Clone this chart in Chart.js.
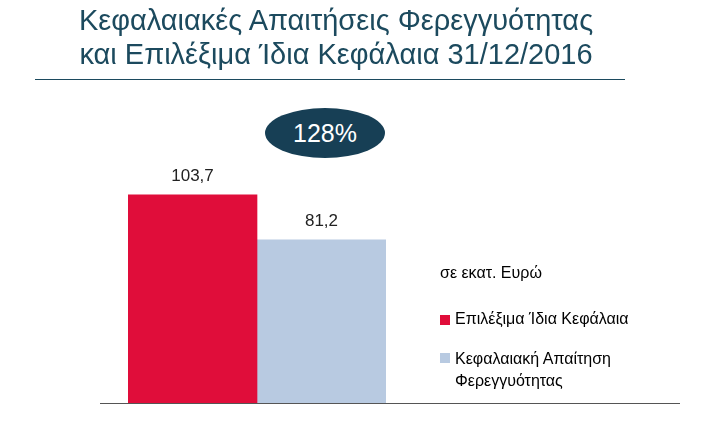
<!DOCTYPE html>
<html><head><meta charset="utf-8">
<script src="https://cdn.jsdelivr.net/npm/chart.js@4"></script>
<style>
body{margin:0;width:709px;height:423px;overflow:hidden;background:#fff;font-family:Arial,"Liberation Sans",sans-serif;position:relative}
#title{position:absolute;left:0;width:672px;top:3px;text-align:center;color:#1C4A5E;font-size:29px;line-height:34px}
#rule{position:absolute;left:35px;width:590px;top:79px;height:1px;background:#1C4A5E}
#oval{position:absolute;left:265px;top:108px;width:120px;height:50px;border-radius:50%;background:#173F55;color:#fff;font-size:25px;line-height:50px;text-align:center}
.lg{position:absolute;font-size:16px;color:#000}
.sq{position:absolute;width:10px;height:10px}
canvas{position:absolute;left:0;top:0}
</style></head><body>
<canvas id="c" width="709" height="423"></canvas>
<div id="title">Κεφαλαιακές Απαιτήσεις Φερεγγυότητας<br>και Επιλέξιμα Ίδια Κεφάλαια 31/12/2016</div>
<div id="rule"></div>
<div id="oval">128%</div>
<div class="lg" style="left:440px;top:264px">σε εκατ. Ευρώ</div>
<div class="sq" style="left:440px;top:315px;background:#E00D3A"></div>
<div class="lg" style="left:455px;top:310px">Επιλέξιμα Ίδια Κεφάλαια</div>
<div class="sq" style="left:440px;top:353px;background:#B8CAE1"></div>
<div class="lg" style="left:455px;top:348px;line-height:22px">Κεφαλαιακή Απαίτηση<br>Φερεγγυότητας</div>
<script>
const categories=['2016'];
const seriesNames=['Επιλέξιμα Ίδια Κεφάλαια','Κεφαλαιακή Απαίτηση Φερεγγυότητας'];
const ownFunds=[103.7];
const scr=[81.2];
const colors=['#E00D3A','#B8CAE1'];
const labelsPlugin={id:'lbl',afterDatasetsDraw(ch){
 const c=ch.ctx;c.save();c.font='17px Arial, "Liberation Sans"';c.fillStyle='#222';c.textAlign='center';
 ch.data.datasets.forEach((d,i)=>{ch.getDatasetMeta(i).data.forEach((b,j)=>{c.fillText(d.data[j].toFixed(1).replace('.',','),b.x,b.y-14);});});
 const y=ch.scales.y.getPixelForValue(0);c.strokeStyle='#555';c.lineWidth=1;c.beginPath();c.moveTo(100,y+0.5);c.lineTo(680,y+0.5);c.stroke();c.restore();}};
new Chart(document.getElementById('c'),{type:'bar',
 data:{labels:categories,datasets:[
  {label:seriesNames[0],data:ownFunds,backgroundColor:colors[0],barPercentage:1,categoryPercentage:1},
  {label:seriesNames[1],data:scr,backgroundColor:colors[1],barPercentage:1,categoryPercentage:1}]},
 options:{responsive:false,animation:false,layout:{padding:{left:128,right:323,top:162,bottom:20}},
  plugins:{legend:{display:false},tooltip:{enabled:false}},
  scales:{x:{display:false},y:{display:false,min:0,max:120}}},
 plugins:[labelsPlugin]});
</script></body></html>
